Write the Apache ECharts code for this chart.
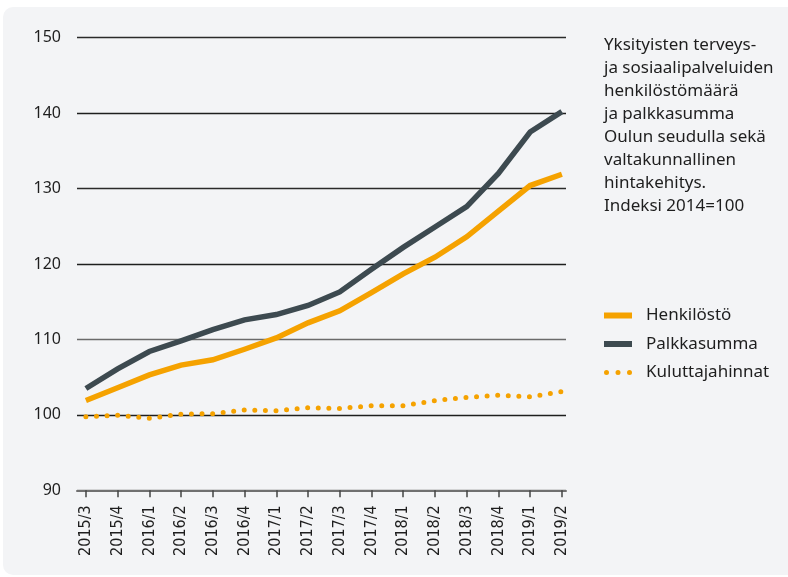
<!DOCTYPE html>
<html>
<head>
<meta charset="utf-8">
<script src="https://cdn.jsdelivr.net/npm/echarts@6/dist/echarts.min.js"></script>
<style>
  html, body { margin: 0; padding: 0; background: #ffffff; }
  #chart { width: 788px; height: 577px; }
</style>
</head>
<body>
<div id="chart"></div>
<script>
// Quarterly index values, 2014 = 100
const categories = ['2015/3', '2015/4', '2016/1', '2016/2', '2016/3', '2016/4', '2017/1', '2017/2',
  '2017/3', '2017/4', '2018/1', '2018/2', '2018/3', '2018/4', '2019/1', '2019/2'];
const henkilosto = [101.9, 103.6, 105.3, 106.6, 107.3, 108.7, 110.2, 112.2,
  113.8, 116.2, 118.7, 120.9, 123.6, 127.0, 130.4, 131.9];
const palkkasumma = [103.5, 106.1, 108.4, 109.8, 111.3, 112.6, 113.3, 114.5,
  116.3, 119.3, 122.2, 124.9, 127.6, 132.0, 137.5, 140.2];
const kuluttajahinnat = [99.75, 99.95, 99.55, 100.1, 100.15, 100.65, 100.55, 100.95,
  100.85, 101.2, 101.2, 101.9, 102.3, 102.6, 102.4, 103.1];
const yTicks = { min: 90, max: 150, step: 10 };

const titleText = 'Yksityisten terveys-\nja sosiaalipalveluiden\nhenkilöstömäärä\nja palkkasumma\nOulun seudulla sekä\nvaltakunnallinen\nhintakehitys.\nIndeksi 2014=100';

const ORANGE = '#f5a200';
const SLATE = '#3d4a50';
const TEXT = '#1e1e1e';
const FONT = '"Noto Sans", "Open Sans", sans-serif';
const NARROW = '"Liberation Sans Narrow", "DejaVu Sans Condensed", sans-serif';

// Legend icons: a solid bar for the solid lines, three dots for the dotted one
const BAR_ICON = 'rect';
const DOTS_ICON = 'path://M0,2.5a2.5,2.5 0 1,0 5,0a2.5,2.5 0 1,0 -5,0z' +
  'M11.5,2.5a2.5,2.5 0 1,0 5,0a2.5,2.5 0 1,0 -5,0z' +
  'M23,2.5a2.5,2.5 0 1,0 5,0a2.5,2.5 0 1,0 -5,0z';

const pairs = arr => arr.map((v, i) => [i, v]);
const idx = categories.map((_, i) => i);

const chart = echarts.init(document.getElementById('chart'), null, { renderer: 'canvas' });
chart.setOption({
  animation: false,
  backgroundColor: '#ffffff',
  graphic: [{
    type: 'rect', z: -10, silent: true,
    shape: { x: 3, y: 7, width: 800, height: 568, r: 10 },
    style: { fill: '#f3f4f6' }
  }],
  title: {
    text: titleText,
    left: 604, top: 34, padding: 0,
    textStyle: { fontFamily: FONT, fontSize: 17, fontWeight: 'normal', color: TEXT, lineHeight: 22.9 }
  },
  legend: {
    orient: 'vertical', left: 604, top: 306, padding: 0,
    itemWidth: 28, itemHeight: 6, itemGap: 9.5,
    textStyle: { fontFamily: FONT, fontSize: 17, color: TEXT, lineHeight: 19, padding: [0, 0, 0, 9] },
    data: [
      { name: 'Henkilöstö', icon: BAR_ICON, itemStyle: { color: ORANGE } },
      { name: 'Palkkasumma', icon: BAR_ICON, itemStyle: { color: SLATE } },
      { name: 'Kuluttajahinnat', icon: DOTS_ICON, itemStyle: { color: ORANGE } }
    ]
  },
  grid: { left: 77, right: 222, top: 37.7, bottom: 86.7, containLabel: false },
  xAxis: {
    type: 'value', min: -0.28, max: 15.13,
    axisLine: { show: true, onZero: false, lineStyle: { color: '#707070', width: 2 } },
    axisTick: { show: true, customValues: idx, length: 7, lineStyle: { color: '#444', width: 1.5 } },
    axisLabel: {
      customValues: idx, rotate: 90, margin: 15,
      formatter: v => categories[Math.round(v)],
      fontFamily: NARROW, fontSize: 16, color: TEXT
    },
    splitLine: { show: false }
  },
  yAxis: {
    type: 'value', min: yTicks.min, max: yTicks.max, interval: yTicks.step,
    axisLine: { show: false }, axisTick: { show: false },
    axisLabel: { margin: 16, fontFamily: FONT, fontSize: 16, color: TEXT },
    splitLine: { lineStyle: { color: ['#707070', '#1e1e1e', '#6a6a6a', '#1e1e1e', '#2a2a2a', '#1e1e1e', '#2a2a2a'], width: 1.3 } }
  },
  series: [
    {
      name: 'Kuluttajahinnat', type: 'line', data: pairs(kuluttajahinnat),
      showSymbol: false, symbol: 'none', z: 2,
      lineStyle: { color: ORANGE, width: 5, type: [0, 10.6], cap: 'round', dashOffset: 0 },
      itemStyle: { color: ORANGE }
    },
    {
      name: 'Henkilöstö', type: 'line', data: pairs(henkilosto),
      showSymbol: false, symbol: 'none', z: 3,
      lineStyle: { color: ORANGE, width: 5.5, cap: 'butt', join: 'miter' },
      itemStyle: { color: ORANGE }
    },
    {
      name: 'Palkkasumma', type: 'line', data: pairs(palkkasumma),
      showSymbol: false, symbol: 'none', z: 4,
      lineStyle: { color: SLATE, width: 5.5, cap: 'butt', join: 'miter' },
      itemStyle: { color: SLATE }
    }
  ]
});
</script>
</body>
</html>
